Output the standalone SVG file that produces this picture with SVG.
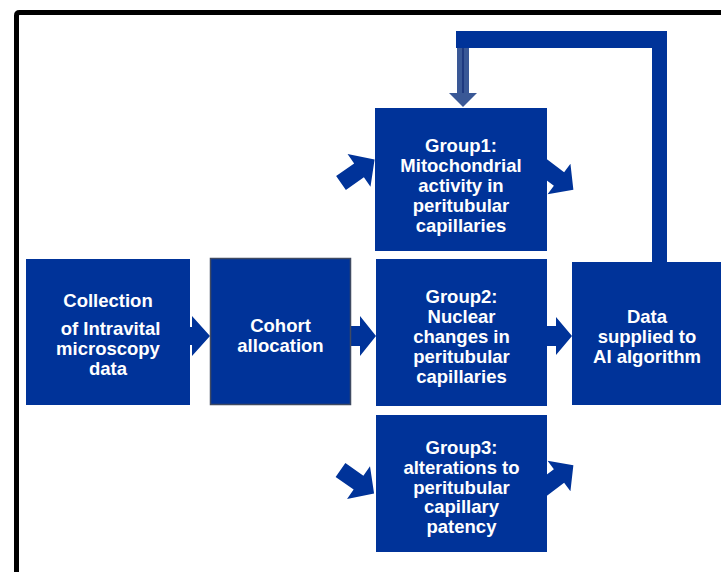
<svg xmlns="http://www.w3.org/2000/svg" width="721" height="572" viewBox="0 0 721 572">
  <style>
    .box { fill: #003399; }
    .cohort { fill: #003399; stroke: #3f4a62; stroke-width: 1.5; }
    .lbl { fill: #ffffff; font-family: "Liberation Sans", Arial, sans-serif; font-weight: bold; font-size: 18.5px; text-anchor: middle; }
    .conn { fill: #003399; }
    .fb { fill: #3a5896; }
  </style>
  <defs>
    <path id="inArrow" d="M0,-8.5 H22 V-20 L41,0 L22,20 V8.5 H0 Z"/>
    <path id="outArrow" d="M-26,-8.5 H0 V-19 L18,0 L0,19 V8.5 H-26 Z"/>
  </defs>

  <rect x="0" y="0" width="721" height="572" fill="#ffffff"/>

  <!-- outer frame -->
  <path d="M16.5,580 V15.5 Q16.5,12.5 19.5,12.5 H730" fill="none" stroke="#000000" stroke-width="5"/>

  <g id="connectors">
    <!-- feedback loop from the AI box back to Group1 -->
    <path class="conn" d="M456,31 H667 V263 H652 V48 H456 Z"/>
    <rect class="fb" x="457" y="48" width="12" height="45"/>
    <line x1="463" y1="48" x2="463" y2="93" stroke="#1f3a80" stroke-width="2"/>
    <polygon class="fb" points="449,93 477,93 463,107"/>

    <!-- straight arrows along the middle row -->
    <polygon class="conn" points="188,327 192,327 192,316 210,336 192,356 192,345 188,345"/>
    <polygon class="conn" points="350,326 360,326 360,316 376,336 360,356 360,346 350,346"/>
    <polygon class="conn" points="546,326 556,326 556,317 572,336 556,355 556,346 546,346"/>

    <!-- diagonal arrows into and out of the group boxes -->
    <use href="#inArrow" class="conn" transform="translate(341,183) rotate(-35)"/>
    <use href="#inArrow" class="conn" transform="translate(340.5,470) rotate(35)"/>
    <use href="#outArrow" class="conn" transform="translate(559,179) rotate(37)"/>
    <use href="#outArrow" class="conn" transform="translate(559,476) rotate(-37)"/>
  </g>

  <g id="collection">
    <rect class="box" x="26" y="259" width="164" height="146"/>
    <text class="lbl" x="108" y="307">Collection</text>
    <text class="lbl" x="110.5" y="335">of Intravital</text>
    <text class="lbl" x="108" y="355">microscopy</text>
    <text class="lbl" x="108" y="375">data</text>
  </g>

  <g id="cohort">
    <rect class="cohort" x="210.5" y="258.5" width="140" height="146"/>
    <text class="lbl" x="280.5" y="332">Cohort</text>
    <text class="lbl" x="280.5" y="352">allocation</text>
  </g>

  <g id="group1">
    <rect class="box" x="375" y="108" width="172" height="143"/>
    <text class="lbl" x="461" y="152">Group1:</text>
    <text class="lbl" x="461" y="172">Mitochondrial</text>
    <text class="lbl" x="461" y="192">activity in</text>
    <text class="lbl" x="461" y="212">peritubular</text>
    <text class="lbl" x="461" y="231.5">capillaries</text>
  </g>

  <g id="group2">
    <rect class="box" x="376" y="259" width="171" height="147"/>
    <text class="lbl" x="461.5" y="303">Group2:</text>
    <text class="lbl" x="461.5" y="323">Nuclear</text>
    <text class="lbl" x="461.5" y="343">changes in</text>
    <text class="lbl" x="461.5" y="363">peritubular</text>
    <text class="lbl" x="461.5" y="383">capillaries</text>
  </g>

  <g id="group3">
    <rect class="box" x="376" y="415" width="171" height="137"/>
    <text class="lbl" x="461.5" y="454">Group3:</text>
    <text class="lbl" x="461.5" y="474">alterations to</text>
    <text class="lbl" x="461.5" y="493.5">peritubular</text>
    <text class="lbl" x="461.5" y="513">capillary</text>
    <text class="lbl" x="461.5" y="533">patency</text>
  </g>

  <g id="ai-data">
    <rect class="box" x="572" y="262" width="152" height="143"/>
    <text class="lbl" x="647" y="323">Data</text>
    <text class="lbl" x="647" y="343">supplied to</text>
    <text class="lbl" x="647" y="363">AI algorithm</text>
  </g>
</svg>
